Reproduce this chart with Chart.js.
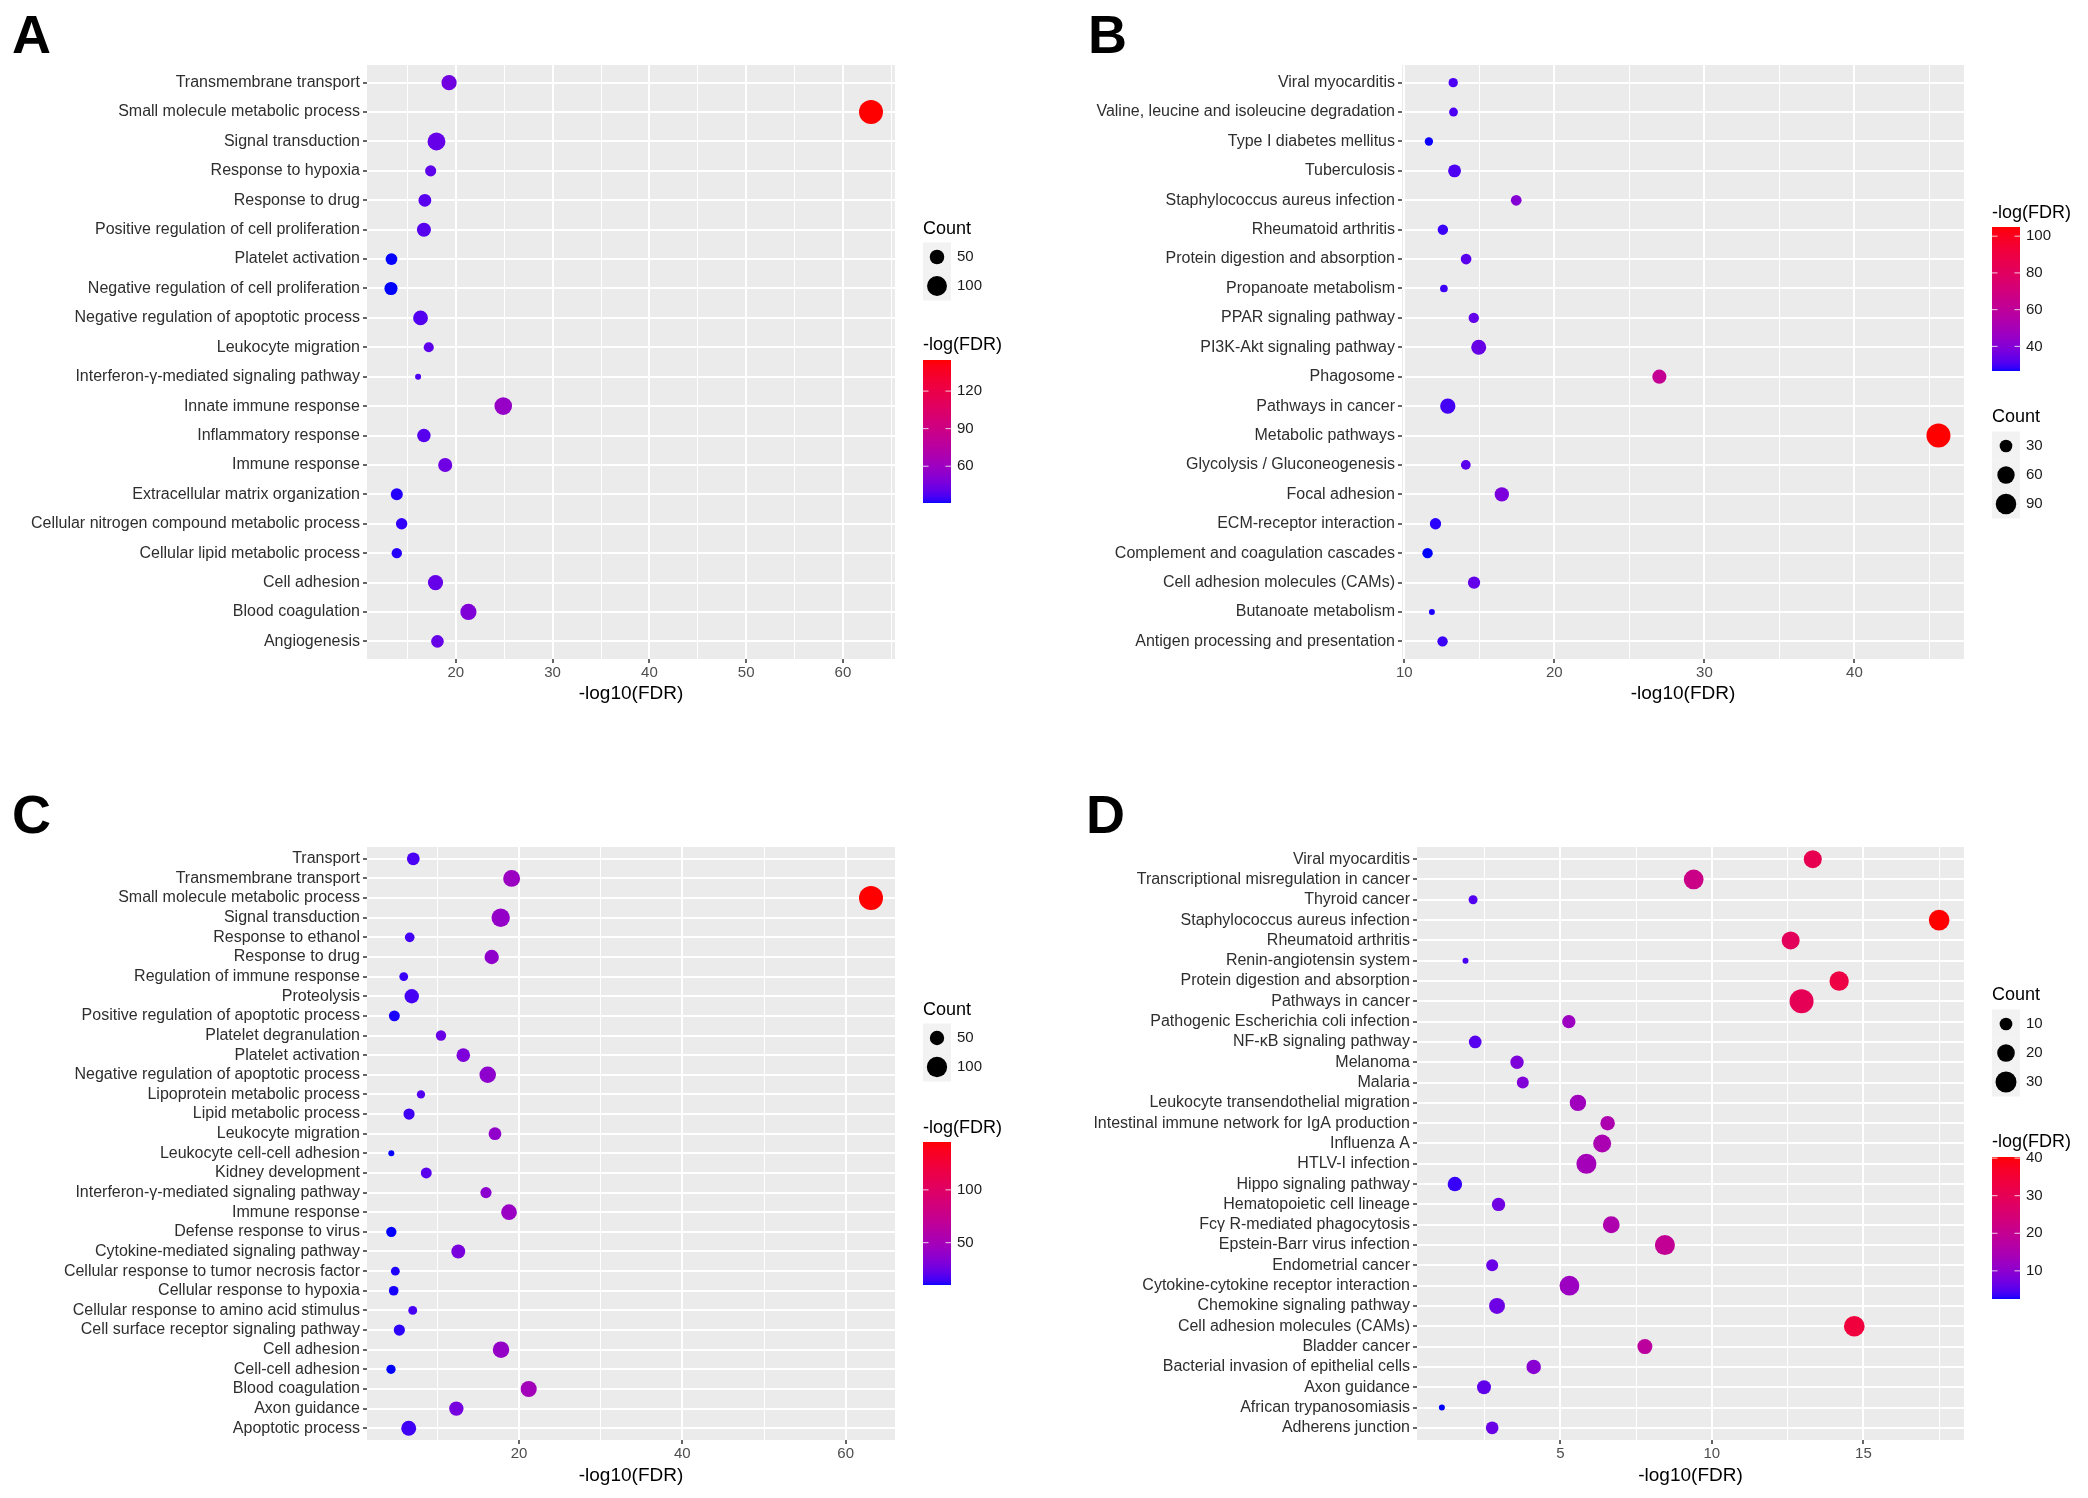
<!DOCTYPE html>
<html>
<head>
<meta charset="utf-8">
<script src="https://cdn.jsdelivr.net/npm/chart.js@4.4.1/dist/chart.umd.min.js"></script>
<style>
  body { margin: 0; background: #fff; width: 2088px; height: 1498px; position: relative; overflow: hidden;
         font-family: "Liberation Sans", Arial, sans-serif; }
  canvas { position: absolute; }
  .tag { position: absolute; font-weight: bold; font-size: 54px; line-height: 54px; color: #000; }
</style>
</head>
<body>
<div class="tag" style="left:12px;top:7px">A</div>
<div class="tag" style="left:1088px;top:7px">B</div>
<div class="tag" style="left:12px;top:787px">C</div>
<div class="tag" style="left:1086px;top:787px">D</div>
<canvas id="chartA" width="1044" height="749" style="left:0;top:0"></canvas>
<canvas id="chartB" width="1044" height="749" style="left:1044px;top:0"></canvas>
<canvas id="chartC" width="1044" height="749" style="left:0;top:749px"></canvas>
<canvas id="chartD" width="1044" height="749" style="left:1044px;top:749px"></canvas>
<script>
// ---- data (rows listed top to bottom) ----
const labelsA = ['Transmembrane transport', 'Small molecule metabolic process', 'Signal transduction',
  'Response to hypoxia', 'Response to drug', 'Positive regulation of cell proliferation', 'Platelet activation',
  'Negative regulation of cell proliferation', 'Negative regulation of apoptotic process', 'Leukocyte migration',
  'Interferon-γ-mediated signaling pathway', 'Innate immune response', 'Inflammatory response', 'Immune response',
  'Extracellular matrix organization', 'Cellular nitrogen compound metabolic process',
  'Cellular lipid metabolic process', 'Cell adhesion', 'Blood coagulation', 'Angiogenesis'];
const fdrA = [19.3, 62.9, 18.0, 17.4, 16.8, 16.7, 13.35, 13.3, 16.35, 17.2, 16.1, 24.9, 16.7, 18.9, 13.9, 14.4, 13.9, 17.9, 21.3, 18.1];
const countA = [55, 154, 78, 31, 39, 47, 34, 41, 52, 27, 20, 76, 43, 47, 35, 32, 28, 55, 63, 38];
const xTicksA = [20, 30, 40, 50, 60];
const sizeBreaksA = [50, 100];
const colorBreaksA = [60, 90, 120];

const labelsB = ['Viral myocarditis', 'Valine, leucine and isoleucine degradation', 'Type I diabetes mellitus',
  'Tuberculosis', 'Staphylococcus aureus infection', 'Rheumatoid arthritis', 'Protein digestion and absorption',
  'Propanoate metabolism', 'PPAR signaling pathway', 'PI3K-Akt signaling pathway', 'Phagosome',
  'Pathways in cancer', 'Metabolic pathways', 'Glycolysis / Gluconeogenesis', 'Focal adhesion',
  'ECM-receptor interaction', 'Complement and coagulation cascades', 'Cell adhesion molecules (CAMs)',
  'Butanoate metabolism', 'Antigen processing and presentation'];
const fdrB = [13.26, 13.28, 11.64, 13.35, 17.46, 12.57, 14.12, 12.64, 14.63, 14.96, 27.0, 12.9, 45.6, 14.1, 16.5, 12.08, 11.55, 14.65, 11.84, 12.55];
const countB = [18, 17, 16, 31, 22, 21, 22, 15, 21, 43, 38, 45, 130, 19, 39, 24, 21, 28, 14, 21];
const xTicksB = [10, 20, 30, 40];
const sizeBreaksB = [30, 60, 90];
const colorBreaksB = [40, 60, 80, 100];

const labelsC = ['Transport', 'Transmembrane transport', 'Small molecule metabolic process', 'Signal transduction',
  'Response to ethanol', 'Response to drug', 'Regulation of immune response', 'Proteolysis',
  'Positive regulation of apoptotic process', 'Platelet degranulation', 'Platelet activation',
  'Negative regulation of apoptotic process', 'Lipoprotein metabolic process', 'Lipid metabolic process',
  'Leukocyte migration', 'Leukocyte cell-cell adhesion', 'Kidney development',
  'Interferon-γ-mediated signaling pathway', 'Immune response', 'Defense response to virus',
  'Cytokine-mediated signaling pathway', 'Cellular response to tumor necrosis factor',
  'Cellular response to hypoxia', 'Cellular response to amino acid stimulus',
  'Cell surface receptor signaling pathway', 'Cell adhesion', 'Cell-cell adhesion', 'Blood coagulation',
  'Axon guidance', 'Apoptotic process'];
const fdrC = [7.06, 19.1, 63.1, 17.76, 6.62, 16.66, 5.89, 6.87, 4.74, 10.45, 13.18, 16.17, 8.0, 6.54, 17.06, 4.37,
  8.65, 15.96, 18.78, 4.37, 12.57, 4.86, 4.66, 6.99, 5.35, 17.8, 4.33, 21.19, 12.33, 6.5];
const countC = [41, 68, 144, 81, 29, 50, 27, 50, 33, 31, 45, 65, 26, 34, 41, 24, 33, 34, 59, 31, 47, 27, 29, 27,
  34, 65, 28, 62, 50, 54];
const xTicksC = [20, 40, 60];
const sizeBreaksC = [50, 100];
const colorBreaksC = [50, 100];

const labelsD = ['Viral myocarditis', 'Transcriptional misregulation in cancer', 'Thyroid cancer',
  'Staphylococcus aureus infection', 'Rheumatoid arthritis', 'Renin-angiotensin system',
  'Protein digestion and absorption', 'Pathways in cancer', 'Pathogenic Escherichia coli infection',
  'NF-κB signaling pathway', 'Melanoma', 'Malaria', 'Leukocyte transendothelial migration',
  'Intestinal immune network for IgA production', 'Influenza A', 'HTLV-I infection', 'Hippo signaling pathway',
  'Hematopoietic cell lineage', 'Fcγ R-mediated phagocytosis', 'Epstein-Barr virus infection',
  'Endometrial cancer', 'Cytokine-cytokine receptor interaction', 'Chemokine signaling pathway',
  'Cell adhesion molecules (CAMs)', 'Bladder cancer', 'Bacterial invasion of epithelial cells', 'Axon guidance',
  'African trypanosomiasis', 'Adherens junction'];
const fdrD = [13.33, 9.4, 2.12, 17.5, 12.6, 1.87, 14.2, 12.96, 5.28, 2.19, 3.57, 3.76, 5.58, 6.56, 6.38, 5.86,
  1.52, 2.96, 6.68, 8.45, 2.75, 5.3, 2.91, 14.7, 7.79, 4.12, 2.48, 1.09, 2.75];
const countD = [21, 26, 6, 29, 21, 5, 25, 41, 11, 10, 11, 9, 17, 13, 21, 27, 13, 11, 18, 27, 9, 26, 16, 29, 14,
  13, 12, 5, 10];
const xTicksD = [5, 10, 15];
const sizeBreaksD = [10, 20, 30];
const colorBreaksD = [10, 20, 30, 40];

// ---- helpers ----
const FONT = '"Liberation Sans", Arial, sans-serif';
Chart.defaults.font.family = FONT;
const R_MIN = 3, R_MAX = 12;
const AXIS_TEXT = '#2e2e2e';

function toLab(rgb) {
  const lin = c => { c /= 255; return c <= 0.04045 ? c / 12.92 : Math.pow((c + 0.055) / 1.055, 2.4); };
  const [R, G, B] = rgb.map(lin);
  const X = (0.4124 * R + 0.3576 * G + 0.1805 * B) / 0.95047;
  const Y = 0.2126 * R + 0.7152 * G + 0.0722 * B;
  const Z = (0.0193 * R + 0.1192 * G + 0.9505 * B) / 1.08883;
  const f = t => t > 0.008856 ? Math.cbrt(t) : 7.787 * t + 16 / 116;
  return [116 * f(Y) - 16, 500 * (f(X) - f(Y)), 200 * (f(Y) - f(Z))];
}
function fromLab([L, a, b]) {
  const fy = (L + 16) / 116, fx = fy + a / 500, fz = fy - b / 200;
  const inv = t => t * t * t > 0.008856 ? t * t * t : (t - 16 / 116) / 7.787;
  const X = inv(fx) * 0.95047, Y = inv(fy), Z = inv(fz) * 1.08883;
  const rl = 3.2406 * X - 1.5372 * Y - 0.4986 * Z;
  const gl = -0.9689 * X + 1.8758 * Y + 0.0415 * Z;
  const bl = 0.0557 * X - 0.2040 * Y + 1.0570 * Z;
  const gam = c => { c = Math.max(0, Math.min(1, c)); c = c <= 0.0031308 ? 12.92 * c : 1.055 * Math.pow(c, 1 / 2.4) - 0.055; return Math.round(c * 255); };
  return [gam(rl), gam(gl), gam(bl)];
}
const LOW = toLab([0, 0, 255]), HIGH = toLab([255, 0, 0]);
function ramp(t) {
  t = Math.max(0, Math.min(1, t));
  const c = fromLab(LOW.map((v, i) => v + (HIGH[i] - v) * t));
  return 'rgb(' + c.join(',') + ')';
}

const panelBg = {
  id: 'panelBg',
  beforeDraw(chart) {
    const { ctx, chartArea: a } = chart;
    ctx.save();
    ctx.fillStyle = '#EBEBEB';
    ctx.fillRect(a.left, a.top, a.right - a.left, a.bottom - a.top);
    ctx.restore();
  }
};

function makePanel(id, p) {
  const lnF = p.fdr.map(v => v * Math.LN10);
  const fMin = Math.min(...lnF), fMax = Math.max(...lnF);
  const cMin = Math.min(...p.count), cMax = Math.max(...p.count);
  const rad = c => R_MIN + (R_MAX - R_MIN) * Math.sqrt(Math.max(0, (c - cMin) / (cMax - cMin)));
  const col = v => ramp((v - fMin) / (fMax - fMin));
  const xMin = Math.min(...p.fdr), xMax = Math.max(...p.fdr), pad = (xMax - xMin) * 0.05;
  const lo = xMin - pad, hi = xMax + pad;
  const step = p.xTicks[1] - p.xTicks[0];
  const isMajor = v => p.xTicks.some(m => Math.abs(m - v) < 1e-6);
  const gridX = [];
  for (let k = -4; k < 100; k++) {
    const v = p.xTicks[0] + k * step / 2;
    if (v >= lo && v <= hi) gridX.push(v);
  }
  const n = p.labels.length;

  const legendPlugin = {
    id: 'ggLegend',
    afterDraw(chart) {
      const ctx = chart.ctx, L = p.legend;
      ctx.save();
      ctx.textBaseline = 'middle';
      ctx.textAlign = 'left';
      // size legend
      ctx.font = '18px ' + FONT;
      ctx.fillStyle = '#000';
      ctx.fillText('Count', L.size.x, L.size.titleY);
      p.sizeBreaks.forEach((b, i) => {
        const cy = L.size.keyY + i * 29;
        ctx.fillStyle = '#F2F2F2';
        ctx.fillRect(L.size.x, cy - 14.5, 28, 29);
        ctx.fillStyle = '#000';
        ctx.beginPath();
        ctx.arc(L.size.x + 14, cy, rad(b), 0, Math.PI * 2);
        ctx.fill();
        ctx.font = '15px ' + FONT;
        ctx.fillStyle = '#1a1a1a';
        ctx.fillText(String(b), L.size.x + 34, cy);
      });
      // colour bar
      const c = L.color;
      ctx.font = '18px ' + FONT;
      ctx.fillStyle = '#000';
      ctx.fillText('-log(FDR)', c.x, c.titleY);
      for (let y = c.top; y < c.bottom; y++) {
        ctx.fillStyle = ramp((c.bottom - y - 0.5) / (c.bottom - c.top));
        ctx.fillRect(c.x, y, 28, 1);
      }
      ctx.font = '15px ' + FONT;
      p.colorBreaks.forEach(b => {
        const y = c.bottom - (b - fMin) / (fMax - fMin) * (c.bottom - c.top);
        ctx.strokeStyle = 'rgba(255,255,255,0.8)';
        ctx.lineWidth = 1;
        ctx.beginPath();
        ctx.moveTo(c.x, y); ctx.lineTo(c.x + 5.5, y);
        ctx.moveTo(c.x + 22.5, y); ctx.lineTo(c.x + 28, y);
        ctx.stroke();
        ctx.fillStyle = '#1a1a1a';
        ctx.fillText(String(b), c.x + 34, y);
      });
      ctx.restore();
    }
  };

  return new Chart(document.getElementById(id), {
    type: 'scatter',
    data: {
      datasets: [{
        data: p.fdr.map((v, i) => ({ x: v, y: i })),
        pointRadius: ctx => rad(p.count[ctx.dataIndex]),
        pointHoverRadius: ctx => rad(p.count[ctx.dataIndex]),
        pointBackgroundColor: ctx => col(lnF[ctx.dataIndex]),
        pointBorderWidth: 0
      }]
    },
    options: {
      responsive: false,
      animation: false,
      devicePixelRatio: 1,
      events: [],
      layout: { padding: { top: p.box.top, right: p.box.right, bottom: p.box.bottom, left: 0 } },
      plugins: { legend: { display: false }, tooltip: { enabled: false } },
      scales: {
        x: {
          type: 'linear', min: lo, max: hi,
          afterBuildTicks: s => { s.ticks = gridX.map(v => ({ value: v })); },
          afterFit: s => { s.height = p.box.axisH; },
          border: { display: false },
          grid: {
            color: '#fff',
            lineWidth: c => (c.tick && isMajor(c.tick.value)) ? 2 : 1,
            tickColor: c => (c.tick && isMajor(c.tick.value)) ? '#333' : 'rgba(0,0,0,0)',
            tickLength: 4, tickWidth: 1.5
          },
          ticks: {
            autoSkip: false, maxRotation: 0, padding: 1, color: '#4D4D4D', font: { size: 15 },
            callback: v => isMajor(v) ? String(Math.round(v)) : ''
          },
          title: { display: true, text: '-log10(FDR)', color: '#000', font: { size: 19 }, padding: 0 }
        },
        y: {
          type: 'linear', reverse: true, min: -0.6, max: n - 0.4,
          afterBuildTicks: s => { s.ticks = p.labels.map((_, i) => ({ value: i })); },
          afterFit: s => { s.width = p.box.axisW; },
          border: { display: false },
          grid: { color: '#fff', lineWidth: 2, tickColor: '#333', tickLength: 4, tickWidth: 1.5 },
          ticks: { autoSkip: false, padding: 3, color: AXIS_TEXT, font: { size: 16 }, callback: v => p.labels[v] }
        }
      }
    },
    plugins: [panelBg, legendPlugin]
  });
}

makePanel('chartA', {
  labels: labelsA, fdr: fdrA, count: countA, xTicks: xTicksA, sizeBreaks: sizeBreaksA, colorBreaks: colorBreaksA,
  box: { top: 65, right: 149, bottom: 44, axisW: 367, axisH: 46 },
  legend: { size: { x: 923, titleY: 229, keyY: 257 }, color: { x: 923, titleY: 345, top: 360, bottom: 503 } }
});
makePanel('chartB', {
  labels: labelsB, fdr: fdrB, count: countB, xTicks: xTicksB, sizeBreaks: sizeBreaksB, colorBreaks: colorBreaksB,
  box: { top: 65, right: 124, bottom: 44, axisW: 358, axisH: 46 },
  legend: { size: { x: 948, titleY: 417, keyY: 446 }, color: { x: 948, titleY: 213, top: 227, bottom: 371 } }
});
makePanel('chartC', {
  labels: labelsC, fdr: fdrC, count: countC, xTicks: xTicksC, sizeBreaks: sizeBreaksC, colorBreaks: colorBreaksC,
  box: { top: 98, right: 149, bottom: 11, axisW: 367, axisH: 47 },
  legend: { size: { x: 923, titleY: 261, keyY: 289 }, color: { x: 923, titleY: 379, top: 393, bottom: 536 } }
});
makePanel('chartD', {
  labels: labelsD, fdr: fdrD, count: countD, xTicks: xTicksD, sizeBreaks: sizeBreaksD, colorBreaks: colorBreaksD,
  box: { top: 98, right: 124, bottom: 11, axisW: 373, axisH: 47 },
  legend: { size: { x: 948, titleY: 246, keyY: 275 }, color: { x: 948, titleY: 393, top: 408, bottom: 550 } }
});
</script>
</body>
</html>
